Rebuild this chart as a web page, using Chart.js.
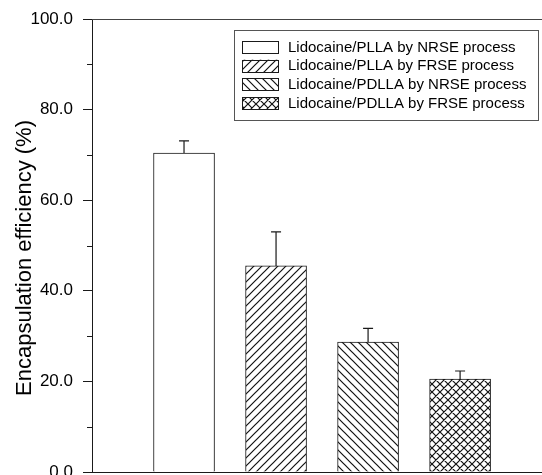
<!DOCTYPE html>
<html>
<head>
<meta charset="utf-8">
<script src="https://cdn.jsdelivr.net/npm/chart.js@4.4.1/dist/chart.umd.min.js"></script>
<style>
  html, body { margin: 0; padding: 0; background: #fff; overflow: hidden; }
  #wrap { width: 542px; height: 485px; }
</style>
</head>
<body>
<div id="wrap"><canvas id="encapChart" width="542" height="485"></canvas></div>
<script>
// data
const labels = [
  "Lidocaine/PLLA by NRSE process",
  "Lidocaine/PLLA by FRSE process",
  "Lidocaine/PDLLA by NRSE process",
  "Lidocaine/PDLLA by FRSE process"
];
const efficiency = [70.4, 45.5, 28.7, 20.5];
const errorUp = [2.7, 7.5, 3.0, 1.8];
const hatchKinds = ["none", "fwd", "back", "cross"];
const yTicks = [0, 20, 40, 60, 80, 100];

document.addEventListener("DOMContentLoaded", function () {
  const axisColor = "#1a1a1a";
  const fontFamily = "'Liberation Sans', Arial, Helvetica, sans-serif";
  Chart.defaults.font.family = fontFamily;
  Chart.defaults.color = "#000";

  // small tile -> canvas pattern for the hatched bars
  function makePattern(kind) {
    const size = 8;
    const c = document.createElement("canvas");
    c.width = size;
    c.height = size;
    const p = c.getContext("2d");
    p.fillStyle = "#fff";
    p.fillRect(0, 0, size, size);
    p.strokeStyle = "#111";
    p.lineWidth = 1.2;
    p.beginPath();
    if (kind === "fwd" || kind === "cross") {
      p.moveTo(0, size); p.lineTo(size, 0);
      p.moveTo(-1, 1); p.lineTo(1, -1);
      p.moveTo(size - 1, size + 1); p.lineTo(size + 1, size - 1);
    }
    if (kind === "back" || kind === "cross") {
      p.moveTo(0, 0); p.lineTo(size, size);
      p.moveTo(-1, size - 1); p.lineTo(1, size + 1);
      p.moveTo(size - 1, -1); p.lineTo(size + 1, 1);
    }
    p.stroke();
    return p.createPattern(c, "repeat");
  }

  const fills = hatchKinds.map(k => makePattern(k));

  // upward error bars with caps
  const errorBars = {
    id: "errorBars",
    afterDatasetsDraw(chart) {
      const c = chart.ctx;
      const yScale = chart.scales.y;
      const meta = chart.getDatasetMeta(0);
      c.save();
      c.strokeStyle = axisColor;
      c.lineWidth = 1.2;
      meta.data.forEach((bar, i) => {
        const yTop = yScale.getPixelForValue(efficiency[i] + errorUp[i]);
        c.beginPath();
        c.moveTo(bar.x, bar.y);
        c.lineTo(bar.x, yTop);
        c.moveTo(bar.x - 5, yTop);
        c.lineTo(bar.x + 5, yTop);
        c.stroke();
      });
      c.restore();
    }
  };

  // frame top line, minor ticks, axis title, boxed legend
  const decorations = {
    id: "decorations",
    afterDraw(chart) {
      const c = chart.ctx;
      const area = chart.chartArea;
      const yScale = chart.scales.y;
      c.save();
      c.strokeStyle = "#444";
      c.lineWidth = 1;
      c.beginPath();
      c.moveTo(area.left, area.top + 0.5);
      c.lineTo(area.right, area.top + 0.5);
      c.stroke();

      c.strokeStyle = axisColor;
      c.beginPath();
      for (let v = 10; v < 100; v += 20) {
        const py = Math.round(yScale.getPixelForValue(v)) + 0.5;
        c.moveTo(area.left - 5, py);
        c.lineTo(area.left, py);
      }
      c.stroke();

      c.fillStyle = "#000";
      c.font = "22px " + fontFamily;
      c.textAlign = "center";
      c.textBaseline = "middle";
      c.translate(25, 258);
      c.rotate(-Math.PI / 2);
      c.fillText("Encapsulation efficiency (%)", 0, 0);
      c.setTransform(1, 0, 0, 1, 0, 0);

      // legend box
      c.strokeStyle = "#555";
      c.strokeRect(234.5, 30.5, 304, 90);
      c.font = "15px " + fontFamily;
      c.textAlign = "left";
      labels.forEach((text, i) => {
        const top = 41 + i * 18.7;
        c.fillStyle = fills[i];
        c.fillRect(242, top, 36, 12.5);
        c.strokeStyle = axisColor;
        c.strokeRect(242.5, Math.round(top) + 0.5, 36, 12);
        c.fillStyle = "#000";
        c.fillText(text, 288, top + 6.5);
      });
      c.restore();
    }
  };

  const ctx = document.getElementById("encapChart");
  const chartEncap = new Chart(ctx, {
    type: "bar",
    data: {
      datasets: [{
        label: "Encapsulation efficiency",
        data: efficiency.map((v, i) => ({ x: i + 1, y: v })),
        backgroundColor: fills,
        borderColor: axisColor,
        borderWidth: 1,
        barThickness: 61
      }]
    },
    options: {
      responsive: false,
      animation: false,
      devicePixelRatio: 1,
      layout: { padding: { top: 19, right: 0, bottom: 13, left: 0 } },
      plugins: {
        legend: { display: false },
        tooltip: { enabled: false }
      },
      scales: {
        x: {
          type: "linear",
          offset: false,
          min: 0,
          max: 4.89,
          ticks: { display: false },
          grid: { display: false, drawTicks: false, offset: false },
          border: { display: true, color: axisColor, width: 1 }
        },
        y: {
          min: 0,
          max: 100,
          ticks: {
            stepSize: 10,
            padding: 10,
            color: "#000",
            font: { size: 17 },
            callback: v => yTicks.includes(v) ? v.toFixed(1) : ""
          },
          grid: {
            drawOnChartArea: false,
            drawTicks: true,
            tickLength: 9,
            tickColor: c => (c.tick && yTicks.includes(c.tick.value)) ? axisColor : "rgba(0,0,0,0)"
          },
          border: { color: axisColor, width: 1 },
          afterFit: scale => {
            scale.width = 92;
            // let the 0.0 label hang below the plot like the original
            scale.paddingTop = 0;
            scale.paddingBottom = 0;
          }
        }
      }
    },
    plugins: [errorBars, decorations]
  });
});
</script>
</body>
</html>
